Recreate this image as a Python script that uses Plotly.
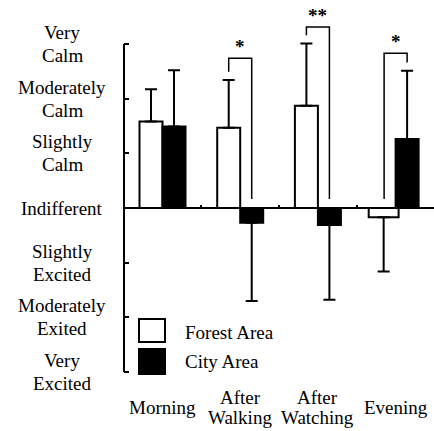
import plotly.graph_objects as go

categories = ["Morning", "After<br>Walking", "After<br>Watching", "Evening"]
forest_vals = [1.58, 1.47, 1.87, -0.17]
forest_err = [0.59, 0.87, 1.14, 0.99]
city_vals = [1.49, -0.27, -0.31, 1.26]
city_err = [1.03, 1.43, 1.37, 1.25]
ytick_vals = [3, 2, 1, 0, -1, -2, -3]
ytick_labels = [["Very", "Calm"], ["Moderately", "Calm"], ["Slightly", "Calm"],
                ["Indifferent"], ["Slightly", "Excited"], ["Moderately", "Exited"],
                ["Very", "Excited"]]
sig_cats = [1, 2, 3]
sig_labels = ["*", "**", "*"]
sig_tops = [2.74, 3.31, 2.83]

FONT = "Liberation Serif"
FS = 19
W, H = 434, 431
ML, MR, MT, MB = 124, 0, 5, 41
YMIN, YMAX = -3.329, 3.713
XMIN, XMAX = -0.4955, 3.494
BW = 0.296

x = list(range(len(categories)))

def plus(v, e):
    return [ee if vv >= 0 else 0 for vv, ee in zip(v, e)]

def minus(v, e):
    return [ee if vv < 0 else 0 for vv, ee in zip(v, e)]

fig = go.Figure()
forest_w = [BW, BW, BW, BW * 1.3]
forest_off = [-BW, -BW, -BW, -BW * 1.17]
fig.add_trace(go.Bar(
    x=x, y=forest_vals, width=forest_w, offset=forest_off, name="Forest Area",
    marker=dict(color="white", line=dict(color="black", width=2)),
    error_y=dict(type="data", symmetric=False, array=plus(forest_vals, forest_err),
                 arrayminus=minus(forest_vals, forest_err), color="black",
                 thickness=2, width=6),
    showlegend=False))
fig.add_trace(go.Bar(
    x=x, y=city_vals, width=BW, offset=0, name="City Area",
    marker=dict(color="black", line=dict(color="black", width=2)),
    error_y=dict(type="data", symmetric=False, array=plus(city_vals, city_err),
                 arrayminus=minus(city_vals, city_err), color="black",
                 thickness=2, width=6),
    showlegend=False))

# significance brackets
annotations = []
for c, lab, top in zip(sig_cats, sig_labels, sig_tops):
    fv, cv = forest_vals[c], city_vals[c]
    ftop = fv + forest_err[c] if fv >= 0 else 0
    ctop = cv + city_err[c] if cv >= 0 else 0
    xl = c - BW / 2
    xr = c + BW / 2
    yl = ftop + 0.15 if fv >= 0 else 0.165
    yr = ctop + 0.15 if cv >= 0 else 0.165
    if fv >= 0 and cv < 0:
        yl = top - 0.25 if c == 1 else top - 0.15
    fig.add_trace(go.Scatter(x=[xl, xl, xr, xr], y=[yl, top, top, yr], mode="lines",
                             line=dict(color="black", width=1.5), showlegend=False,
                             hoverinfo="skip"))
    annotations.append(dict(x=c, y=top, xref="x", yref="y", text="<b>%s</b>" % lab,
                            showarrow=False, yanchor="middle", yshift=12,
                            font=dict(family=FONT, size=FS, color="black")))

# y tick labels
LS = 11.5
for v, lines in zip(ytick_vals, ytick_labels):
    n = len(lines)
    for i, t in enumerate(lines):
        shift = (n - 1) / 2 * LS * 2 - i * LS * 2
        annotations.append(dict(x=-62 / (W - ML - MR), y=v, xref="paper", yref="y",
                                text=t, showarrow=False, xanchor="center",
                                yanchor="middle", yshift=shift,
                                font=dict(family=FONT, size=FS, color="black")))

# x category labels
for i, cat in enumerate(categories):
    lines = cat.split("<br>")
    n = len(lines)
    for j, t in enumerate(lines):
        ypix = 407 + (j - (n - 1) / 2) * 20
        annotations.append(dict(x=i, y=0, xref="x", yref="paper", text=t,
                                showarrow=False, xanchor="center", yanchor="middle",
                                yshift=-(ypix - (H - MB)),
                                font=dict(family=FONT, size=FS, color="black")))

PW = W - ML - MR
PH = H - MT - MB
def px2x(p):
    return (p - ML) / PW
def py2y(p):
    return (H - MB - p) / PH

shapes = [
    dict(type="line", xref="paper", yref="y", x0=0, x1=0, y0=-3, y1=3,
         line=dict(color="black", width=2)),
    dict(type="rect", xref="paper", yref="paper", x0=px2x(139), x1=px2x(165),
         y0=py2y(342), y1=py2y(319), fillcolor="white",
         line=dict(color="black", width=2)),
    dict(type="rect", xref="paper", yref="paper", x0=px2x(139), x1=px2x(165),
         y0=py2y(374), y1=py2y(349), fillcolor="black",
         line=dict(color="black", width=2)),
]
for t, yp in [("Forest Area", 332.5), ("City Area", 361.5)]:
    annotations.append(dict(x=px2x(183), y=py2y(yp), xref="paper", yref="paper",
                            text=t, showarrow=False, xanchor="left", yanchor="middle",
                            font=dict(family=FONT, size=FS, color="black")))

fig.update_layout(
    width=W, height=H, margin=dict(l=ML, r=MR, t=MT, b=MB),
    plot_bgcolor="white", paper_bgcolor="white",
    barmode="overlay",
    font=dict(family=FONT, size=FS, color="black"),
    xaxis=dict(range=[XMIN, XMAX], showgrid=False, zeroline=False,
               showline=True, linecolor="black", linewidth=2,
               anchor="free", position=(0 - YMIN) / (YMAX - YMIN),
               tickvals=[0.5, 1.5, 2.5], ticks="inside", ticklen=2, tickwidth=2,
               tickcolor="black", showticklabels=False),
    yaxis=dict(range=[YMIN, YMAX], showgrid=False, zeroline=False, showline=False,
               tickvals=ytick_vals, ticks="inside", ticklen=5, tickwidth=2,
               tickcolor="black", showticklabels=False),
    shapes=shapes, annotations=annotations,
)

fig.write_html("out.html", config={"displayModeBar": False},
               post_script="document.body.style.margin='0';document.body.style.overflow='hidden';")
